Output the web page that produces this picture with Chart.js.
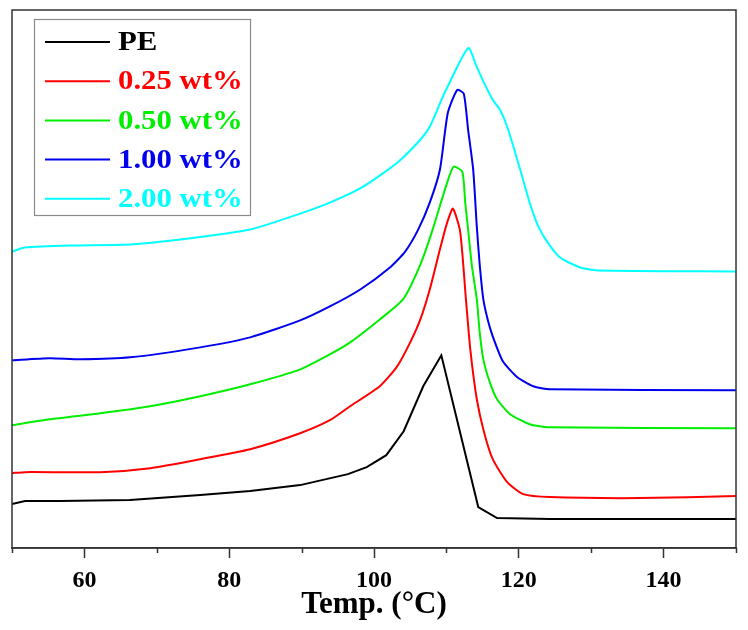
<!DOCTYPE html>
<html>
<head>
<meta charset="utf-8">
<script src="https://cdn.jsdelivr.net/npm/chart.js@4.4.0/dist/chart.umd.min.js"></script>
<style>
  html, body { margin: 0; padding: 0; background: #fff; }
  #wrap { width: 748px; height: 630px; position: relative; }
</style>
</head>
<body>
<div id="wrap"><canvas id="c" width="748" height="630"></canvas></div>
<script>
// ---- Data (y is heat flow in arbitrary units, curves offset) ----
const seriesLabels = ['PE', '0.25 wt%', '0.50 wt%', '1.00 wt%', '2.00 wt%'];
const seriesColors = ['#000000', '#ff0000', '#00ee00', '#0000ee', '#00ffff'];

const peTemp = [50, 51.8, 56.6, 66.3, 76.0, 82.9, 89.8, 96.4, 99.0, 101.7, 104.1, 106.8, 109.3, 114.4, 117.0, 124.3, 150];
const peFlow = [44, 47, 47, 48, 53, 57, 63, 74, 81, 93, 117, 162, 193, 41, 30, 29, 29];

const w025Temp = [50, 51.8, 62.2, 69.1, 76.0, 82.9, 89.8, 93.9, 96.7, 100.8, 103.2, 105.0, 106.4, 107.7, 109.1, 110.1, 110.9, 111.9, 112.7, 113.3, 114.2, 115.2, 116.4, 118.4, 120.6, 124.3, 136.7, 150];
const w025Flow = [75, 76, 76, 80, 89, 99, 115, 128, 142, 162, 182, 206, 229, 259, 299, 326, 340, 317, 249, 199, 149, 116, 89, 66, 54, 51, 50, 52];

const w050Temp = [50, 55.2, 62.2, 69.1, 76.0, 82.9, 89.8, 93.9, 96.7, 100.8, 104.0, 106.4, 108.1, 110.1, 111.0, 112.2, 112.6, 113.0, 113.5, 114.2, 114.6, 115.1, 116.0, 117.0, 118.8, 121.5, 124.3, 150];
const w050Flow = [123, 129, 135, 142, 152, 164, 179, 194, 206, 229, 249, 284, 319, 366, 382, 377, 346, 319, 284, 249, 216, 189, 166, 149, 134, 124, 121, 120];

const w100Temp = [50, 55.2, 59.4, 66.3, 76.0, 82.9, 89.8, 93.9, 98.1, 102.2, 104.3, 106.1, 107.7, 109.1, 110.2, 111.5, 112.4, 113.0, 113.7, 114.2, 114.6, 115.1, 115.7, 116.4, 117.8, 119.8, 122.0, 124.3, 150];
const w100Flow = [188, 190, 189, 191, 201, 211, 228, 242, 259, 281, 297, 319, 346, 379, 436, 459, 455, 419, 379, 322, 284, 249, 229, 212, 187, 171, 162, 159, 158];

const w200Temp = [50, 51.8, 58.0, 66.3, 73.2, 82.9, 89.8, 93.9, 98.5, 103.2, 106.4, 107.7, 109.5, 111.5, 112.2, 113.1, 114.2, 115.2, 116.4, 117.4, 118.4, 120.2, 121.5, 122.7, 124.0, 125.7, 128.5, 131.2, 150];
const w200Flow = [297, 301, 303, 304, 309, 319, 335, 346, 362, 386, 409, 422, 452, 482, 492, 501, 482, 466, 449, 439, 422, 379, 346, 322, 306, 291, 281, 278, 277];

const xMajorTicks = [60, 80, 100, 120, 140];
const xMinorTicks = [50, 70, 90, 110, 130, 150];
const xMin = 50, xMax = 150;
const xTitle = 'Temp. (°C)';

// ---- Build datasets ----
const temps = [peTemp, w025Temp, w050Temp, w100Temp, w200Temp];
const flows = [peFlow, w025Flow, w050Flow, w100Flow, w200Flow];
const datasets = seriesLabels.map((lab, i) => ({
  label: lab,
  data: temps[i].map((t, j) => ({ x: t, y: flows[i][j] })),
  borderColor: seriesColors[i],
  backgroundColor: seriesColors[i],
  borderWidth: 2,
  pointRadius: 0,
  tension: i === 0 ? 0 : 0.2,
  fill: false
}));

const FONT = '"Liberation Serif", "Times New Roman", serif';

const framePlugin = {
  id: 'frame',
  afterDraw(chart) {
    const { ctx, chartArea: a, scales } = chart;
    const xs = scales.x;
    ctx.save();
    // frame
    ctx.strokeStyle = '#333';
    ctx.lineWidth = 1.5;
    ctx.strokeRect(a.left, a.top, a.right - a.left, a.bottom - a.top);
    // minor ticks
    ctx.beginPath();
    xMinorTicks.forEach(v => {
      const px = Math.round(xs.getPixelForValue(v)) + 0.5;
      ctx.moveTo(px, a.bottom);
      ctx.lineTo(px, a.bottom + 5);
    });
    ctx.stroke();
    // legend box
    const bx = 34, by = 19, bw = 216, bh = 196;
    ctx.strokeStyle = '#8a8a8a';
    ctx.lineWidth = 1.2;
    ctx.strokeRect(bx + 0.5, by + 0.5, bw, bh);
    ctx.font = 'bold 28px ' + FONT;
    ctx.textBaseline = 'middle';
    ctx.textAlign = 'left';
    chart.data.datasets.forEach((ds, i) => {
      const y = 42 + i * 39.2;
      ctx.strokeStyle = ds.borderColor;
      ctx.lineWidth = 2;
      ctx.beginPath();
      ctx.moveTo(45, y);
      ctx.lineTo(110, y);
      ctx.stroke();
      ctx.fillStyle = ds.borderColor;
      ctx.save();
      ctx.translate(118, y + 1);
      ctx.scale(1.1, 1);
      ctx.fillText(ds.label, 0, 0);
      ctx.restore();
    });
    ctx.restore();
  }
};

new Chart(document.getElementById('c'), {
  type: 'line',
  data: { datasets },
  options: {
    responsive: false,
    animation: false,
    layout: { padding: { left: 12, right: 12, top: 10, bottom: 0 } },
    plugins: { legend: { display: false }, tooltip: { enabled: false } },
    scales: {
      x: {
        type: 'linear',
        min: xMin,
        max: xMax,
        afterBuildTicks: s => { s.ticks = xMajorTicks.map(v => ({ value: v })); },
        afterFit: s => { s.height = 82; },
        grid: { drawOnChartArea: false, drawTicks: true, tickLength: 10, color: '#333', tickColor: '#333', tickWidth: 1.5 },
        border: { display: true, color: '#333', width: 1.5 },
        ticks: { color: '#000', font: { family: FONT, size: 24, weight: 'bold' }, padding: 8, maxRotation: 0, autoSkip: false },
        title: { display: true, text: xTitle, color: '#000', font: { family: FONT, size: 31, weight: 'bold' }, padding: { top: 0, bottom: 6 } }
      },
      y: {
        type: 'linear',
        display: false,
        min: 0,
        max: 539
      }
    }
  },
  plugins: [framePlugin]
});
</script>
</body>
</html>
